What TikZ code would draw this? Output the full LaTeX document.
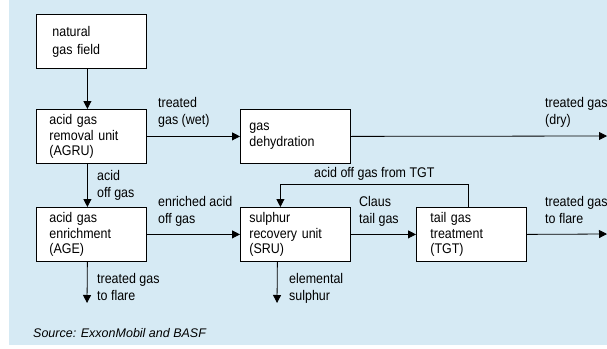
\documentclass[tikz,border=0pt]{standalone}
\usepackage{fontspec}
\setmainfont{Liberation Sans}[FakeStretch=0.89]
\newfontfamily\srcfont{Liberation Sans}
\usetikzlibrary{arrows.meta}
\definecolor{bgblue}{RGB}{214,234,244}
\begin{document}
\begin{tikzpicture}[x=1pt,y=-1pt,
  unit/.style={draw=black,line width=0.8pt,fill=white,anchor=north west,
    minimum height=54pt,align=left,font=\fontsize{14}{15.5}\selectfont,inner ysep=0pt},
  lbl/.style={inner sep=0pt,anchor=north west,align=left,font=\fontsize{14}{17}\selectfont},
  flow/.style={line width=0.8pt,-{Triangle[length=8pt,width=8pt]}}]
\useasboundingbox (0,0) rectangle (607,348);
\fill[bgblue] (9,0) rectangle (607,345);
% units
\node[unit,inner xsep=16pt,text width=78pt,font=\fontsize{14}{18}\selectfont] (ngf) at (36,14) {natural\\gas field};
\node[unit,inner xsep=13pt,text width=84pt] (agru) at (36,109) {acid gas\\removal unit\\(AGRU)};
\node[unit,inner xsep=9pt,text width=92pt] (dehy) at (240,109) {gas\\dehydration};
\node[unit,inner xsep=13pt,text width=84pt] (age) at (36,207) {acid gas\\enrichment\\(AGE)};
\node[unit,inner xsep=9pt,text width=92pt] (sru) at (240,207) {sulphur\\recovery unit\\(SRU)};
\node[unit,inner xsep=14pt,text width=82pt] (tgt) at (416,207) {tail gas\\treatment\\(TGT)};
% labels
\node[lbl] (l1) at (158,97) {treated\\gas (wet)};
\node[lbl] (l2) at (545,97) {treated gas\\(dry)};
\node[lbl] (l3) at (314,167) {acid off gas from TGT};
\node[lbl] (l4) at (97,170) {acid\\off gas};
\node[lbl] (l5) at (158,196) {enriched acid\\off gas};
\node[lbl] (l6) at (359,196) {Claus\\tail gas};
\node[lbl] (l7) at (545,196) {treated gas\\to flare};
\node[lbl] (l8) at (97,273) {treated gas\\to flare};
\node[lbl] (l9) at (289,273) {elemental\\sulphur};
\node[inner sep=0pt,anchor=base west,font=\srcfont\itshape\fontsize{12.5}{14}\selectfont] (src) at (33,337) {Source: ExxonMobil and BASF};
% free ends
\coordinate (e1) at (607,136);
\coordinate (e2) at (607,234);
\coordinate (e3) at (87,303);
\coordinate (e4) at (277,303);
% connectors
\draw[flow] ([xshift=-4pt]ngf.south) -- ([xshift=-4pt]agru.north);
\draw[flow] (agru.east) -- (dehy.west);
\draw[flow] (dehy.east) -- (e1);
\draw[flow] ([xshift=-4pt]agru.south) -- ([xshift=-4pt]age.north);
\draw[flow] (age.east) -- (sru.west);
\draw[flow] (sru.east) -- (tgt.west);
\draw[flow] (tgt.east) -- (e2);
\draw[flow] ([xshift=-3pt]tgt.north) -- ++(0,-23) -| ([xshift=-15pt]sru.north);
\draw[flow] ([xshift=-4pt]age.south) -- (e3);
\draw[flow] ([xshift=-18pt]sru.south) -- (e4);
\end{tikzpicture}
\end{document}
